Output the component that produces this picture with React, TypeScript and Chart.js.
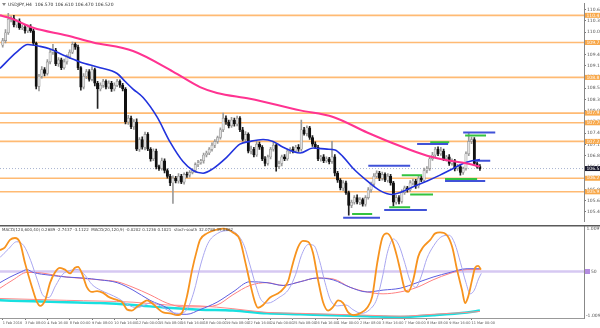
import React, { useEffect, useRef } from "react";
import { Chart, registerables } from "chart.js";

Chart.register(...registerables);

// ---------- DATA ----------
const symbolTitle = "USDJPY,H4  106.570 106.610 106.470 106.520";
const indicatorTitle =
  "MACD(120,600,40) 0.2689 -2.7437 -3.1122  MACD(20,120,9) -0.0202 0.1236 0.1021  stoch-south 32.0780 39.0862";

const firstOpen = 109.7;
const closes = [
  109.82, 110.02, 110.37, 110.4, 110.22, 110.32, 110.15, 110.17, 110.07, 110.17,
  110.07, 109.75, 108.64, 108.9, 109.07, 108.97, 109.27, 109.52, 109.57, 109.22,
  109.32, 109.12, 109.27, 109.4, 109.52, 109.72, 109.65, 109.12, 108.62, 108.9,
  109.02, 108.82, 109.07, 108.72, 108.57, 108.67, 108.77, 108.62, 108.72, 108.57,
  108.67, 108.77, 108.67, 108.57, 107.72, 107.82, 107.6, 107.72, 107.02, 107.27,
  107.07, 107.4, 107.02, 106.77, 106.97, 106.57, 106.52, 106.72, 106.47, 106.32,
  106.15, 106.27, 106.2, 106.32, 106.17, 106.37, 106.35, 106.42, 106.47, 106.62,
  106.67, 106.72, 106.87, 106.92, 107.02, 107.12, 107.22, 107.32, 107.52, 107.82,
  107.72, 107.62, 107.77, 107.67, 107.82, 107.52, 107.27, 107.4, 106.97, 107.02,
  106.87, 107.15, 107.07, 106.77, 106.65, 106.82, 107.02, 107.12, 106.57, 106.65,
  106.82, 106.77, 106.97, 107.02, 106.97, 107.07, 107.02, 107.52, 107.42, 107.57,
  107.32, 107.15, 107.07, 106.77, 106.82, 106.72, 106.77, 106.7, 106.82, 106.4,
  106.22, 106.02, 106.15, 105.9, 105.57, 105.65, 105.77, 105.65, 105.72, 105.6,
  105.77, 105.97, 106.12, 106.32, 106.4, 106.27, 106.37, 106.22, 106.32, 106.15,
  105.65, 105.77, 105.67, 105.9, 106.02, 105.97, 106.15, 106.2, 106.07, 106.27,
  106.22, 106.47, 106.52, 106.77, 106.87, 107.02, 106.9, 106.97, 106.77, 106.82,
  106.65, 106.72, 106.52, 106.57, 106.42, 106.52, 106.9, 107.22, 107.27, 106.65,
  106.57, 106.52,
];
const upperWicks = [
  0.06, 0.08, 0.15, 0.05, 0.07, 0.04, 0.06, 0.05, 0.07, 0.05,
  0.06, 0.04, 0.03, 0.05, 0.08, 0.05, 0.06, 0.07, 0.15, 0.05,
  0.06, 0.05, 0.07, 0.05, 0.06, 0.06, 0.04, 0.05, 0.03, 0.07,
  0.06, 0.05, 0.08, 0.04, 0.05, 0.06, 0.05, 0.04, 0.06, 0.05,
  0.06, 0.05, 0.04, 0.05, 0.04, 0.07, 0.05, 0.06, 0.08, 0.05,
  0.07, 0.06, 0.05, 0.04, 0.06, 0.05, 0.04, 0.07, 0.05, 0.04,
  0.05, 0.06, 0.05, 0.07, 0.05, 0.04, 0.06, 0.05, 0.04, 0.05,
  0.06, 0.04, 0.05, 0.05, 0.04, 0.06, 0.05, 0.04, 0.05, 0.13,
  0.06, 0.05, 0.07, 0.05, 0.05, 0.04, 0.06, 0.07, 0.04, 0.08,
  0.05, 0.07, 0.05, 0.04, 0.06, 0.05, 0.05, 0.08, 0.04, 0.06,
  0.05, 0.06, 0.05, 0.04, 0.06, 0.05, 0.07, 0.25, 0.06, 0.05,
  0.04, 0.05, 0.06, 0.05, 0.04, 0.06, 0.05, 0.04, 0.4, 0.06,
  0.05, 0.04, 0.06, 0.05, 0.04, 0.06, 0.05, 0.07, 0.05, 0.04,
  0.05, 0.06, 0.05, 0.07, 0.06, 0.05, 0.06, 0.04, 0.07, 0.05,
  0.04, 0.06, 0.05, 0.07, 0.05, 0.04, 0.06, 0.05, 0.04, 0.05,
  0.05, 0.06, 0.05, 0.04, 0.07, 0.05, 0.06, 0.1, 0.05, 0.04,
  0.06, 0.05, 0.04, 0.06, 0.05, 0.04, 0.05, 0.23, 0.06, 0.05,
  0.04, 0.05,
];
const lowerWicks = [
  0.05, 0.06, 0.04, 0.07, 0.05, 0.06, 0.04, 0.05, 0.06, 0.05,
  0.04, 0.05, 0.07, 0.12, 0.05, 0.06, 0.04, 0.05, 0.06, 0.05,
  0.07, 0.05, 0.04, 0.06, 0.05, 0.04, 0.06, 0.05, 0.08, 0.05,
  0.06, 0.05, 0.04, 0.07, 0.5, 0.05, 0.06, 0.05, 0.04, 0.06,
  0.05, 0.04, 0.06, 0.05, 0.05, 0.06, 0.05, 0.07, 0.04, 0.06,
  0.05, 0.07, 0.04, 0.06, 0.05, 0.06, 0.05, 0.04, 0.06, 0.05,
  0.07, 0.53, 0.05, 0.06, 0.04, 0.05, 0.06, 0.05, 0.04, 0.05,
  0.05, 0.04, 0.06, 0.05, 0.04, 0.05, 0.06, 0.05, 0.04, 0.05,
  0.06, 0.05, 0.04, 0.06, 0.05, 0.05, 0.04, 0.06, 0.05, 0.07,
  0.05, 0.04, 0.06, 0.05, 0.06, 0.04, 0.05, 0.05, 0.12, 0.05,
  0.06, 0.05, 0.04, 0.06, 0.05, 0.04, 0.06, 0.05, 0.04, 0.06,
  0.05, 0.06, 0.04, 0.05, 0.06, 0.05, 0.04, 0.06, 0.05, 0.07,
  0.06, 0.05, 0.07, 0.05, 0.25, 0.06, 0.05, 0.04, 0.06, 0.05,
  0.05, 0.04, 0.06, 0.05, 0.04, 0.06, 0.05, 0.04, 0.05, 0.06,
  0.1, 0.05, 0.06, 0.04, 0.05, 0.06, 0.04, 0.05, 0.06, 0.05,
  0.04, 0.05, 0.06, 0.05, 0.04, 0.06, 0.05, 0.04, 0.05, 0.06,
  0.05, 0.04, 0.06, 0.05, 0.07, 0.05, 0.04, 0.05, 0.06, 0.05,
  0.04, 0.05,
];

// moving averages: [bar index, price]
const maFast: [number, number][] = [
  [-1, 109.1], [5, 109.52], [9, 109.72], [13.4, 109.67], [17, 109.6], [21.6, 109.45],
  [27.7, 109.27], [34.9, 109.12], [41, 108.97], [43.8, 108.77], [46.7, 108.57],
  [50.3, 108.35], [55.3, 107.85], [60, 107.2], [64.6, 106.7], [68.2, 106.47],
  [71.8, 106.4], [75.4, 106.52], [80.4, 106.82], [85, 107.15], [88.6, 107.22],
  [93.3, 107.27], [96.9, 107.22], [100.5, 107.07], [106.6, 106.92], [111.2, 107.05],
  [116.2, 107.02], [119.1, 107.0], [122, 106.82], [125.6, 106.52], [130.6, 106.2],
  [135.2, 105.95], [139.5, 105.85], [142.4, 105.9], [147.1, 106.05], [152.1, 106.2],
  [156.7, 106.35], [161.4, 106.52], [165, 106.65], [168.2, 106.72], [171, 106.75],
];
const maSlow: [number, number][] = [
  [-1, 110.47], [2.6, 110.4], [10.9, 110.15], [23, 109.95], [32.4, 109.77],
  [46.7, 109.55], [61, 109.02], [70.7, 108.62], [76.8, 108.47], [88.6, 108.32],
  [106.6, 108.02], [118.4, 107.85], [130.6, 107.45], [142.4, 107.1], [152.1, 106.85],
  [160.3, 106.72], [166.4, 106.65], [171, 106.57],
];

const levelPrices = [110.47, 109.77, 108.87, 107.95, 107.7, 107.22, 106.27, 105.92];
const bidPrice = 106.52;
const priceTicks = [
  110.62, 110.33, 110.04, 109.75, 109.46, 109.17, 108.88, 108.59, 108.3, 108.01,
  107.72, 107.43, 107.14, 106.85, 106.56, 106.27, 105.98, 105.69, 105.4,
];

// horizontal objects: [from bar, to bar, price]
const blueSegments: [number, number, number][] = [
  [131, 146, 106.59], [148.5, 159.6, 107.15], [165, 176.5, 107.45],
  [136.7, 152, 105.45], [158.5, 172.9, 106.2], [169.3, 174.7, 106.72], [122, 135.2, 105.25],
];
const greenSegments: [number, number, number][] = [
  [153.2, 160, 107.2], [165.7, 173.2, 107.37], [143, 150.3, 106.35],
  [146, 154.2, 105.85], [138.5, 146, 105.52], [158.5, 170, 106.25], [125.2, 132.4, 105.35],
];

const dateTicks = [0, 8, 16, 24, 32, 40, 48, 56, 64, 72, 80, 88, 96, 104, 112, 120, 128, 136, 144, 152, 160, 168];
const dateLabels = [
  "1 Feb 2016", "3 Feb 08:00", "4 Feb 16:00", "8 Feb 00:00", "9 Feb 08:00", "10 Feb 16:00",
  "12 Feb 00:00", "15 Feb 08:00", "16 Feb 16:00", "18 Feb 00:00", "19 Feb 08:00", "22 Feb 16:00",
  "24 Feb 00:00", "25 Feb 08:00", "26 Feb 16:00", "1 Mar 00:00", "2 Mar 08:00", "3 Mar 16:00",
  "7 Mar 00:00", "8 Mar 08:00", "9 Mar 16:00", "11 Mar 00:00",
];

// indicator panel (0..100): [bar index, value]
const stochMain: [number, number][] = [
  [-1, 73], [0.8, 76], [2.6, 84], [4.4, 86], [6.2, 81], [8, 59], [10.5, 33], [12.3, 17], [13.4, 13],
  [15.2, 19], [17, 38], [18.7, 49], [20.5, 54], [22.3, 52], [24.1, 48], [25.9, 54], [27, 55],
  [28.4, 48], [30.2, 33], [32, 28], [33.8, 29], [36, 27], [37.8, 23], [40.3, 20], [42.8, 17],
  [44.6, 9], [46.3, 8], [48.1, 12], [50, 16], [51.7, 19], [53.5, 16], [55.3, 11], [57.5, 6],
  [60, 5], [62.5, 3], [64.3, 6], [66, 23], [67.9, 52], [69.6, 73], [70.7, 84], [73.2, 91],
  [75.4, 94], [79, 96], [82.5, 92], [85, 84], [86.8, 62], [88.6, 38], [90.4, 17], [91.5, 11],
  [93.3, 14], [95.8, 22], [99.4, 28], [102.2, 39], [104, 59], [105.8, 76], [107.6, 83],
  [109.4, 82], [111.2, 70], [113, 41], [114.8, 17], [116.6, 8], [118.4, 12], [120.2, 19],
  [122, 16], [123.8, 6], [125.6, 3], [128, 5], [130.6, 11], [132.4, 23], [134.2, 59], [136, 86],
  [137.7, 91], [139.5, 84], [141.3, 66], [142.4, 52], [144.2, 30], [145.3, 28], [147.1, 41],
  [148.9, 66], [150.6, 76], [153.2, 84], [155, 91], [156.7, 92], [159.2, 89], [161.1, 76],
  [162.8, 52], [164.6, 30], [165.7, 16], [166.8, 23], [168.2, 41], [169.3, 54], [170.4, 56], [171.4, 52],
];
const stochSignal: [number, number][] = [
  [-1, 65], [2, 74], [5, 82], [7.5, 78], [10, 62], [12.5, 40], [14.5, 24], [16.5, 22], [19, 35],
  [21.5, 47], [24, 51], [27, 52], [29.5, 46], [32, 36], [35, 30], [38, 26], [41.5, 21], [45, 14],
  [48, 11], [51, 14], [53.5, 17], [56.5, 13], [60, 7], [63, 5], [66, 9], [68.5, 28], [71, 58],
  [73.5, 80], [77, 91], [81, 94], [84, 90], [86.5, 78], [88.5, 58], [90.5, 37], [92.5, 20],
  [95, 16], [99, 22], [102.5, 31], [105, 47], [107, 67], [109.5, 79], [111.5, 78], [113.5, 62],
  [115.5, 38], [117.5, 19], [120, 13], [123, 14], [125.5, 9], [128.5, 5], [131.5, 9], [134, 20],
  [136, 43], [138, 72], [140, 85], [142, 78], [144, 60], [146, 40], [148, 33], [150, 45],
  [152, 64], [154.5, 78], [157, 87], [160, 89], [162, 80], [164, 60], [166, 38], [167.5, 26],
  [169, 30], [170.5, 42], [171.5, 48],
];
const macdBlue: [number, number][] = [
  [-1, 38], [2.6, 44], [6.2, 49], [8.7, 52], [10.9, 49], [17, 46], [23, 44], [28.8, 43],
  [34.9, 41], [41, 38], [46.7, 30], [52.8, 19], [58.9, 11], [62.5, 4], [66, 4], [70.7, 9],
  [76.8, 17], [82.5, 28], [88.6, 39], [94.7, 38], [100.5, 35], [106.6, 39], [112.7, 43],
  [118.4, 41], [124.5, 33], [130.6, 28], [136.3, 30], [142.4, 32], [148.5, 38], [154.2, 44],
  [160.3, 49], [166.4, 53], [171, 53],
];
const macdRed: [number, number][] = [
  [-1, 32], [3.7, 41], [8.7, 49], [10.9, 49], [23, 44], [34.9, 41], [41, 39], [46.7, 33],
  [52.8, 25], [58.9, 16], [64.6, 12], [70.7, 12], [76.8, 14], [82.5, 25], [88.6, 35],
  [94.7, 38], [100.5, 35], [106.6, 39], [112.7, 43], [118.4, 42], [124.5, 33], [130.6, 28],
  [136.3, 26], [142.4, 28], [148.5, 33], [154.2, 41], [160.3, 48], [166.4, 52], [171, 52],
];
const slowCyan: [number, number][] = [
  [-1, 19], [10.9, 18], [23, 17], [34.9, 16], [46.7, 14], [58.9, 11], [70.7, 9], [82.5, 8],
  [94.7, 5], [106.6, 4], [118.4, 3], [130.6, 2], [142.4, 1], [154.2, 3], [166.4, 6], [171, 8],
];
const slowRed: [number, number][] = [
  [-1, 21], [23, 19], [46.7, 17], [58.9, 14], [70.7, 13], [82.5, 10], [94.7, 6], [106.6, 5],
  [118.4, 4], [130.6, 3], [142.4, 2], [154.2, 4], [166.4, 6], [171, 7],
];
const midLevel = 50;
const indicatorTopLabel = "1.0099";
const indicatorBottomLabel = "-1.0099";

// ---------- STYLE ----------
const X_MIN = -0.97;
const X_MAX = 208.3;
const FONT = "'DejaVu Sans', sans-serif";
const AXIS_W = 16;

function lineDs(pts: [number, number][], color: string, width: number, extra: any = {}) {
  return {
    type: "line",
    data: pts.map(([x, y]) => ({ x, y })),
    borderColor: color,
    backgroundColor: color,
    borderWidth: width,
    pointRadius: 0,
    fill: false,
    tension: 0.4,
    cubicInterpolationMode: "monotone",
    ...extra,
  };
}

function segDs(seg: [number, number, number], color: string) {
  return {
    type: "line",
    data: [
      { x: seg[0], y: seg[2] },
      { x: seg[1], y: seg[2] },
    ],
    borderColor: color,
    borderWidth: 2,
    pointRadius: 0,
    fill: false,
  };
}

export default function App() {
  const mainRef = useRef<HTMLCanvasElement>(null);
  const indRef = useRef<HTMLCanvasElement>(null);

  useEffect(() => {
    const opens = closes.map((c, i) => (i === 0 ? firstOpen : closes[i - 1]));
    const bull = closes.map((c, i) => c >= opens[i]);
    const bodies = closes.map((c, i) => ({ x: i, y: [Math.min(opens[i], c), Math.max(opens[i], c)] }));
    const wicks = closes.map((c, i) => ({
      x: i,
      y: [Math.min(opens[i], c) - lowerWicks[i], Math.max(opens[i], c) + upperWicks[i]],
    }));

    const mainOverlay = {
      id: "mainOverlay",
      afterDraw(chart: any) {
        const { ctx } = chart;
        const y = chart.scales.y;
        ctx.save();
        ctx.font = `4.5px ${FONT}`;
        ctx.textBaseline = "middle";
        ctx.textAlign = "left";
        levelPrices.forEach((p) => {
          const py = y.getPixelForValue(p);
          ctx.fillStyle = "#f8a84a";
          ctx.fillRect(585, py - 2.5, 15, 5);
          ctx.fillStyle = "#ffffff";
          ctx.fillText(p.toFixed(3), 586.5, py);
        });
        const by = y.getPixelForValue(bidPrice);
        ctx.fillStyle = "#1a1a2e";
        ctx.fillRect(585, by - 2.5, 15, 5);
        ctx.fillStyle = "#ffffff";
        ctx.fillText(bidPrice.toFixed(3), 586.5, by);
        // title
        ctx.fillStyle = "#888";
        ctx.beginPath();
        ctx.moveTo(2, 3);
        ctx.lineTo(6, 3);
        ctx.lineTo(4, 6);
        ctx.closePath();
        ctx.fill();
        ctx.fillStyle = "#333";
        ctx.font = `4.5px ${FONT}`;
        ctx.fillText(symbolTitle, 8, 5);
        ctx.restore();
      },
    };

    const mainChart = new Chart(mainRef.current!, {
      type: "bar",
      data: {
        datasets: [
          lineDs(maSlow, "#ff3391", 2),
          lineDs(maFast, "#2233dd", 1.6),
          ...blueSegments.map((s) => segDs(s, "#4052d8")),
          ...greenSegments.map((s) => segDs(s, "#33c33f")),
          {
            type: "bar",
            data: bodies,
            barThickness: 2.4,
            minBarLength: 1,
            grouped: false,
            backgroundColor: bull.map((b) => (b ? "#e2e2e2" : "#111111")),
            borderColor: bull.map((b) => (b ? "#8c8c8c" : "#111111")),
            borderWidth: 0.6,
            borderSkipped: false,
          },
          {
            type: "bar",
            data: wicks,
            barThickness: 1,
            grouped: false,
            backgroundColor: bull.map((b) => (b ? "#9a9a9a" : "#222222")),
            borderWidth: 0,
          },
          ...levelPrices.map((p) => ({
            type: "line",
            data: [
              { x: X_MIN, y: p },
              { x: X_MAX, y: p },
            ],
            borderColor: "rgba(255,178,100,0.9)",
            borderWidth: 1.6,
            pointRadius: 0,
            fill: false,
          })),
          {
            type: "line",
            data: [
              { x: X_MIN, y: bidPrice },
              { x: X_MAX, y: bidPrice },
            ],
            borderColor: "#a8b4d0",
            borderWidth: 1,
            borderDash: [1, 2],
            pointRadius: 0,
            fill: false,
          },
        ] as any,
      },
      options: {
        animation: false,
        responsive: false,
        maintainAspectRatio: false,
        layout: { padding: 0 },
        plugins: { legend: { display: false }, tooltip: { enabled: false } },
        scales: {
          x: {
            type: "linear",
            min: X_MIN,
            max: X_MAX,
            offset: false,
            display: false,
            grid: { offset: false },
          },
          y: {
            position: "right",
            min: 105.16,
            max: 110.77,
            afterFit: (s: any) => {
              s.width = AXIS_W;
            },
            afterBuildTicks: (s: any) => {
              s.ticks = priceTicks.map((v) => ({ value: v }));
            },
            ticks: {
              font: { size: 4.5, family: FONT },
              color: "#555",
              padding: 1,
              callback: (v: any) => Number(v).toFixed(3),
            },
            grid: { drawOnChartArea: false, drawTicks: true, tickLength: 2, color: "#777" },
            border: { display: true, color: "#888", width: 1 },
          },
        },
      } as any,
      plugins: [mainOverlay],
    });

    const indOverlay = {
      id: "indOverlay",
      afterDraw(chart: any) {
        const { ctx } = chart;
        const y = chart.scales.y;
        ctx.save();
        ctx.fillStyle = "#5a5a5a";
        ctx.fillRect(0, 0, 600, 1.5);
        ctx.font = `4px ${FONT}`;
        ctx.textBaseline = "middle";
        ctx.fillStyle = "#444";
        ctx.fillText(indicatorTitle, 2, 4.5);
        ctx.font = `4.5px ${FONT}`;
        ctx.fillStyle = "#555";
        ctx.fillText(indicatorTopLabel, 586.5, 4);
        ctx.fillText(indicatorBottomLabel, 586, y.getPixelForValue(0) - 2);
        const my = y.getPixelForValue(midLevel);
        ctx.fillStyle = "#b48ce0";
        ctx.fillRect(585, my - 2.5, 5, 5);
        ctx.fillStyle = "#555";
        ctx.fillText(String(midLevel), 591, my);
        ctx.restore();
      },
    };

    const indChart = new Chart(indRef.current!, {
      type: "line",
      data: {
        datasets: [
          lineDs(stochMain, "#f7931e", 1.8),
          lineDs(stochSignal, "#a9a6f0", 1),
          lineDs(macdBlue, "#5d5de0", 1),
          lineDs(macdRed, "#ff8080", 1),
          lineDs(slowRed, "#ff8a8a", 1),
          lineDs(slowCyan, "#18e0e0", 2.5),
          {
            type: "line",
            data: [
              { x: X_MIN, y: midLevel },
              { x: X_MAX, y: midLevel },
            ],
            borderColor: "#d6c8f2",
            borderWidth: 2.5,
            pointRadius: 0,
            fill: false,
          },
        ] as any,
      },
      options: {
        animation: false,
        responsive: false,
        maintainAspectRatio: false,
        layout: { padding: 0 },
        plugins: { legend: { display: false }, tooltip: { enabled: false } },
        scales: {
          x: {
            type: "linear",
            min: X_MIN,
            max: X_MAX,
            afterFit: (s: any) => {
              s.height = 10;
            },
            afterBuildTicks: (s: any) => {
              s.ticks = dateTicks.map((v) => ({ value: v }));
            },
            ticks: {
              autoSkip: false,
              maxRotation: 0,
              minRotation: 0,
              align: "start",
              padding: 1,
              font: { size: 3.5, family: FONT },
              color: "#555",
              callback: (v: any) => {
                const k = dateTicks.indexOf(Number(v));
                return k >= 0 ? dateLabels[k] : "";
              },
            },
            grid: { drawOnChartArea: false, drawTicks: true, tickLength: 2, color: "#777" },
            border: { display: true, color: "#999", width: 1 },
          },
          y: {
            position: "right",
            min: 0,
            max: 100,
            afterFit: (s: any) => {
              s.width = AXIS_W;
            },
            ticks: { display: false },
            grid: { display: false },
            border: { display: true, color: "#888", width: 1 },
          },
        },
      } as any,
      plugins: [indOverlay],
    });

    return () => {
      mainChart.destroy();
      indChart.destroy();
    };
  }, []);

  return (
    <div style={{ position: "absolute", left: 0, top: 0, width: 600, height: 328, background: "#fff" }}>
      <canvas ref={mainRef} width={600} height={225} style={{ position: "absolute", left: 0, top: 0, width: 600, height: 225 }} />
      <canvas ref={indRef} width={600} height={103} style={{ position: "absolute", left: 0, top: 225, width: 600, height: 103 }} />
    </div>
  );
}
